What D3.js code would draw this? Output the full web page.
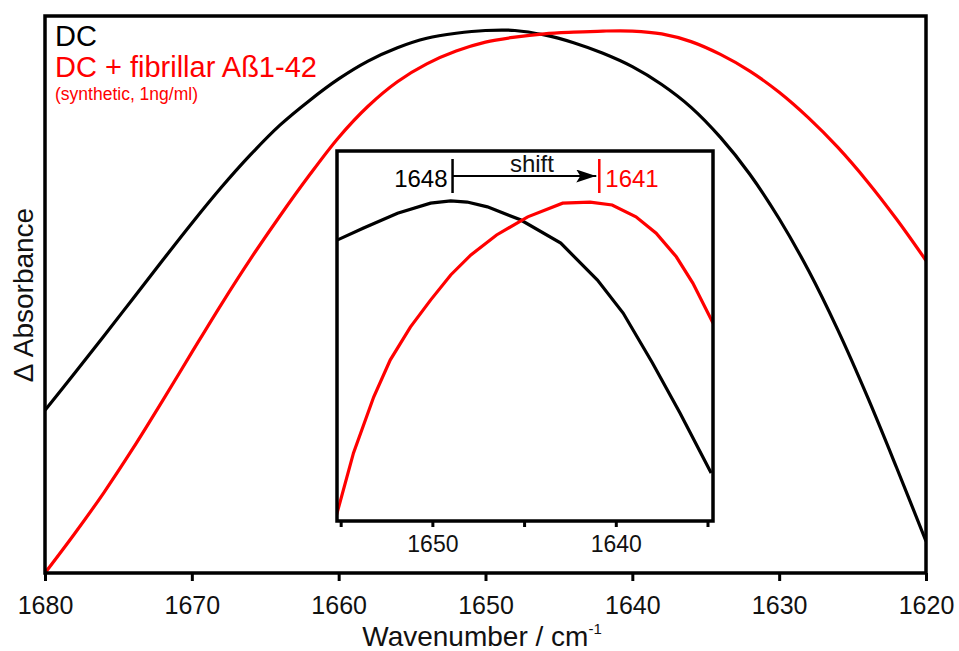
<!DOCTYPE html>
<html>
<head>
<meta charset="utf-8">
<script src="https://cdnjs.cloudflare.com/ajax/libs/d3/7.8.5/d3.min.js"></script>
<style>
	body { margin: 0; background: #fff; }
	svg { display: block; font-family: 'Liberation Sans', Arial, sans-serif; }
</style>
</head>
<body>
<svg id="chart" width="959" height="651"></svg>
<script>
// main spectra (arbitrary absorbance units)
const wavenumbers = [1680, 1678, 1676, 1674, 1672, 1670, 1668, 1666, 1664, 1662, 1660,
	1658, 1656, 1654, 1652, 1650, 1648, 1646, 1644, 1642, 1640,
	1638, 1636, 1634, 1632, 1630, 1628, 1626, 1624, 1622, 1620]
const dcValues = [0.292, 0.358, 0.425, 0.493, 0.561, 0.628, 0.692, 0.751, 0.804, 0.848, 0.887,
	0.919, 0.943, 0.960, 0.969, 0.974, 0.974, 0.966, 0.952, 0.933, 0.909,
	0.877, 0.836, 0.782, 0.716, 0.636, 0.543, 0.436, 0.317, 0.189, 0.057]
const fibrilValues = [0.000, 0.070, 0.144, 0.224, 0.309, 0.396, 0.482, 0.564, 0.641, 0.714, 0.782,
	0.838, 0.882, 0.914, 0.937, 0.953, 0.962, 0.968, 0.971, 0.973, 0.973,
	0.968, 0.954, 0.931, 0.901, 0.863, 0.817, 0.764, 0.703, 0.635, 0.561]

// inset (zoomed peak region)
const insetWnDC = [1655.2, 1653.75, 1651.9, 1650.1, 1649.0, 1648.1, 1647.0, 1645.2, 1643.0,
	1641.0, 1639.6, 1638.0, 1636.5, 1634.8]
const insetDC = [0.759, 0.792, 0.832, 0.859, 0.865, 0.862, 0.849, 0.814, 0.751,
	0.651, 0.562, 0.427, 0.292, 0.130]
const insetWnFib = [1655.3, 1654.3, 1653.2, 1652.3, 1651.2, 1650.1, 1649.0, 1647.9, 1646.5,
	1644.8, 1642.9, 1641.4, 1640.2, 1638.9, 1637.8, 1636.7, 1635.8, 1634.7]
const insetFib = [0.003, 0.184, 0.335, 0.435, 0.524, 0.597, 0.665, 0.719, 0.773,
	0.822, 0.859, 0.862, 0.854, 0.822, 0.778, 0.714, 0.643, 0.535]

const mainTicks = [1680, 1670, 1660, 1650, 1640, 1630, 1620]
const insetTicks = [1655, 1650, 1645, 1640, 1635]
const insetTickLabels = [1650, 1640]
const peakPositions = [1648.9, 1640.9]
const peakLabels = ['1648', '1641']
const seriesNames = ['DC', 'DC + fibrillar Aß1-42']
const seriesNote = '(synthetic, 1ng/ml)'
const colors = ['#000', '#ff0000']

const svg = d3.select('#chart')

const x = d3.scaleLinear().domain([1680, 1620]).range([45, 926])
const y = d3.scaleLinear().domain([0, 1]).range([573, 16])

const xi = d3.scaleLinear().domain([1655.2, 1634.7]).range([337, 713])
const yi = d3.scaleLinear().domain([0, 1]).range([521, 151])

const defs = svg.append('defs')
defs.append('clipPath').attr('id', 'clipMain')
	.append('rect').attr('x', 45).attr('y', 16).attr('width', 881).attr('height', 557)
defs.append('clipPath').attr('id', 'clipInset')
	.append('rect').attr('x', 337).attr('y', 151).attr('width', 376).attr('height', 370)

// main curves
const line = d3.line()
	.x(d => x(d[0]))
	.y(d => y(d[1]))
	.curve(d3.curveCatmullRom)

const mainSeries = [dcValues, fibrilValues]
svg.append('g')
	.attr('clip-path', 'url(#clipMain)')
	.selectAll('path')
	.data(mainSeries)
	.enter()
	.append('path')
	.attr('d', vals => line(vals.map((v, i) => [wavenumbers[i], v])))
	.attr('fill', 'none')
	.attr('stroke', (d, i) => colors[i])
	.attr('stroke-width', 3.2)

// bottom axis
const xAxis = svg.append('g')
	.attr('transform', 'translate(0,573)')
	.call(d3.axisBottom(x).tickValues(mainTicks).tickSize(8).tickPadding(15).tickFormat(d3.format('d')))
xAxis.select('.domain').remove()
xAxis.selectAll('line').attr('stroke-width', 3)
xAxis.selectAll('text').attr('font-size', 25).attr('font-family', null).attr('fill', '#111')

svg.append('rect')
	.attr('x', 45).attr('y', 16).attr('width', 881).attr('height', 557)
	.attr('fill', 'none').attr('stroke', '#000').attr('stroke-width', 3.5)

svg.append('text')
	.attr('x', 482).attr('y', 646)
	.attr('text-anchor', 'middle')
	.attr('font-size', 28)
	.attr('fill', '#111')
	.text('Wavenumber / cm')
	.append('tspan')
	.attr('dy', -12).attr('font-size', 15)
	.text('-1')

svg.append('text')
	.attr('transform', 'translate(33,295) rotate(-90)')
	.attr('text-anchor', 'middle')
	.attr('font-size', 28)
	.attr('fill', '#111')
	.text('\u0394 Absorbance')

// legend text
svg.selectAll('.legend')
	.data(seriesNames)
	.enter()
	.append('text')
	.attr('class', 'legend')
	.attr('x', 55)
	.attr('y', (d, i) => 46 + i * 31)
	.attr('font-size', 29)
	.attr('fill', (d, i) => colors[i])
	.text(d => d)

svg.append('text')
	.attr('x', 55).attr('y', 100)
	.attr('font-size', 17.5)
	.attr('fill', colors[1])
	.text(seriesNote)

// inset
svg.append('rect')
	.attr('x', 337).attr('y', 151).attr('width', 376).attr('height', 370)
	.attr('fill', '#fff')

const lineInset = d3.line()
	.x(d => xi(d[0]))
	.y(d => yi(d[1]))

svg.append('g')
	.attr('clip-path', 'url(#clipInset)')
	.selectAll('path')
	.data([
		insetWnDC.map((w, i) => [w, insetDC[i]]),
		insetWnFib.map((w, i) => [w, insetFib[i]])
	])
	.enter()
	.append('path')
	.attr('d', d => lineInset(d))
	.attr('fill', 'none')
	.attr('stroke', (d, i) => colors[i])
	.attr('stroke-width', 3.2)

const insetAxis = svg.append('g')
	.attr('transform', 'translate(0,521)')
	.call(d3.axisBottom(xi).tickValues(insetTicks).tickSize(6).tickPadding(9)
		.tickFormat(d => insetTickLabels.includes(d) ? d : ''))
insetAxis.select('.domain').remove()
insetAxis.selectAll('line').attr('stroke-width', 3)
insetAxis.selectAll('text').attr('font-size', 23).attr('font-family', null).attr('fill', '#111')

svg.append('rect')
	.attr('x', 337).attr('y', 151).attr('width', 376).attr('height', 370)
	.attr('fill', 'none').attr('stroke', '#000').attr('stroke-width', 3.5)

// peak markers + shift arrow
svg.selectAll('.peak')
	.data(peakPositions)
	.enter()
	.append('line')
	.attr('class', 'peak')
	.attr('x1', d => xi(d)).attr('x2', d => xi(d))
	.attr('y1', 159).attr('y2', 193)
	.attr('stroke', (d, i) => colors[i])
	.attr('stroke-width', 2.5)

svg.selectAll('.peakLabel')
	.data(peakLabels)
	.enter()
	.append('text')
	.attr('class', 'peakLabel')
	.attr('x', (d, i) => i === 0 ? xi(peakPositions[0]) - 5 : xi(peakPositions[1]) + 6)
	.attr('y', 187)
	.attr('text-anchor', (d, i) => i === 0 ? 'end' : 'start')
	.attr('font-size', 24)
	.attr('fill', (d, i) => colors[i])
	.text(d => d)

defs.append('marker')
	.attr('id', 'arrow')
	.attr('viewBox', '0 0 10 10')
	.attr('preserveAspectRatio', 'none')
	.attr('refX', 10).attr('refY', 5)
	.attr('markerWidth', 20).attr('markerHeight', 13)
	.attr('markerUnits', 'userSpaceOnUse')
	.attr('orient', 'auto')
	.append('path')
	.attr('d', 'M0,0L10,5L0,10L2,5Z')
	.attr('fill', '#000')

svg.append('line')
	.attr('x1', xi(peakPositions[0])).attr('x2', xi(peakPositions[1]) - 3)
	.attr('y1', 176).attr('y2', 176)
	.attr('stroke', '#000')
	.attr('stroke-width', 2)
	.attr('marker-end', 'url(#arrow)')

svg.append('text')
	.attr('x', (xi(peakPositions[0]) + xi(peakPositions[1])) / 2 + 6)
	.attr('y', 172)
	.attr('text-anchor', 'middle')
	.attr('font-size', 24)
	.attr('fill', '#111')
	.text('shift')
</script>
</body>
</html>
